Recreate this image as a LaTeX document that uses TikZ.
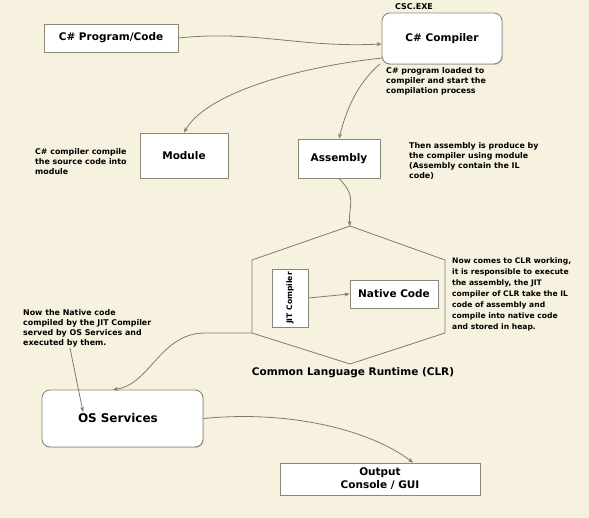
\documentclass[tikz,border=0pt]{standalone}
\usepackage{fontspec}
\setmainfont{DejaVu Sans}
\usetikzlibrary{arrows.meta,shadows}
\definecolor{paper}{HTML}{F7F1DF}
\definecolor{edge}{HTML}{8A8678}
\definecolor{wire}{HTML}{7E7A6C}
\begin{document}
\begin{tikzpicture}[x=1pt,y=-1pt,
  box/.style={draw=edge,line width=0.9pt,fill=white,font=\bfseries\fontsize{10.5}{12}\selectfont,
    inner sep=0pt,drop shadow={shadow xshift=1pt,shadow yshift=-1pt,opacity=0.25}},
  rbox/.style={box,rounded corners=8pt},
  note/.style={font=\bfseries\fontsize{7.9}{10}\selectfont,align=left,anchor=north west,inner sep=0pt},
  wireline/.style={draw=wire,line width=0.8pt,-{Stealth[length=5pt,width=4pt]}}]
\fill[paper] (0,0) rectangle (589,518);
\useasboundingbox (0,0) rectangle (589,518);

% source and compiler
\node[box,minimum width=134pt,minimum height=28pt] (prog) at (111,38) {C\# Program/Code};
\node[rbox,minimum width=120pt,minimum height=51pt] (csc) at (442,38.5) {C\# Compiler};
\node[font=\bfseries\fontsize{8}{9}\selectfont] (exe) at (414,7) {CSC.EXE};
\node[note] (cscnote) at (386,67) {C\# program loaded to\\compiler and start the\\compilation process};

% compiled outputs
\node[box,minimum width=88pt,minimum height=45pt] (module) at (184,155.5) {Module};
\node[note] (modnote) at (35,148) {C\# compiler compile\\the source code into\\module};
\node[box,minimum width=82pt,minimum height=39pt] (asm) at (339,158.5) {Assembly};
\node[note] (asmnote) at (409,142) {Then assembly is produce by\\the compiler using module\\(Assembly contain the IL\\code)};

% common language runtime
\coordinate (ht) at (350,226);
\coordinate (hur) at (445,260);
\coordinate (hlr) at (445,333);
\coordinate (hb) at (350,364);
\coordinate (hll) at (252,333);
\coordinate (hul) at (252,260);
\draw[draw=wire,line width=0.8pt] (ht) -- (hur) -- (hlr) -- (hb) -- (hll) -- (hul) -- cycle;
\node[box,minimum width=36pt,minimum height=58pt] (jitbox) at (290,298) {};
\node[font=\bfseries\fontsize{7.6}{8}\selectfont,rotate=90] (jit) at (jitbox.center) {JIT Compiler};
\node[box,minimum width=88pt,minimum height=28pt] (native) at (394,294) {Native Code};
\node[note,font=\bfseries\fontsize{7.6}{11}\selectfont] (clrnote) at (452,258) {Now comes to CLR working,\\it is responsible to execute\\the assembly, the JIT\\compiler of CLR take the IL\\code of assembly and\\compile into native code\\and stored in heap.};
\node[font=\bfseries\fontsize{10.5}{12}\selectfont] (clr) at (353,373) {Common Language Runtime (CLR)};

% execution
\node[rbox,minimum width=161pt,minimum height=57pt,font=\bfseries\fontsize{12}{14}\selectfont,
  text width=89pt,align=left,inner xsep=0pt] (os) at (122.5,418.5) {OS Services};
\node[note] (osnote) at (23,309) {Now the Native code\\compiled by the JIT Compiler\\served by OS Services and\\executed by them.};
\node[box,minimum width=200pt,minimum height=32pt,align=center,
  font=\bfseries\fontsize{10.5}{13}\selectfont] (out) at (380,479) {Output\\Console / GUI};

% connectors
\draw[wireline] (prog.east) .. controls (255,30) and (300,48) .. (csc.west |- 0,44);
\coordinate (c1) at (382,58);
\draw[wireline] (c1) .. controls (290,68) and (205,95) .. (module.north);
\coordinate (c2) at (380,64);
\draw[wireline] (c2) .. controls (355,85) and (345,115) .. (asm.north);
\draw[wireline] (asm.south) .. controls (358,198) and (348,205) .. (ht);
\draw[wireline] (jitbox.east) -- (native.west);
\draw[wireline] (hll) -- (205,333) .. controls (160,333) and (150,385) .. (os.north -| 113,0);
\coordinate (n1) at (70,348);
\coordinate (osarr) at (83,412);
\draw[wireline] (n1) -- (osarr);
\draw[wireline] (os.east) .. controls (290,410) and (370,430) .. (out.north -| 413,0);
\end{tikzpicture}
\end{document}
